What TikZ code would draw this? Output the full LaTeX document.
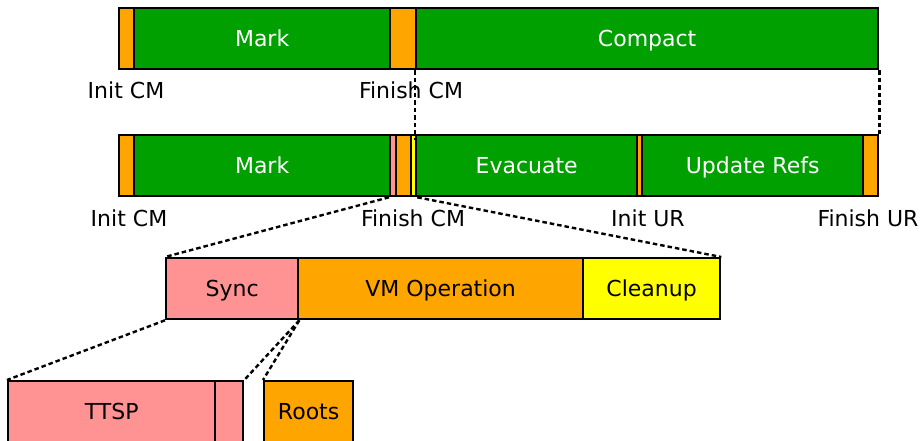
\documentclass[tikz,border=0pt]{standalone}
\usepackage{fontspec}
\setmainfont{DejaVu Sans}
\definecolor{gcgreen}{RGB}{0,160,0}
\definecolor{gcorange}{RGB}{255,165,0}
\definecolor{gcpink}{RGB}{255,146,146}
\definecolor{gcyellow}{RGB}{255,255,0}
\tikzset{
  caps centred/.style={font=\fontsize{22}{24}\selectfont, text height=16pt, text depth=0pt},
  seg/.style={draw=black, line width=2.3pt, rectangle, inner sep=0pt, anchor=north west,
    minimum height=61pt, caps centred},
  green seg/.style={seg, fill=gcgreen, text=white},
  orange seg/.style={seg, fill=gcorange},
  pink seg/.style={seg, fill=gcpink},
  yellow seg/.style={seg, fill=gcyellow},
  tick/.style={caps centred, inner sep=0pt},
  zoomline/.style={line width=2.4pt, dash pattern=on 4.5pt off 3pt},
}
\begin{document}
\begin{tikzpicture}[x=1pt, y=-1pt]
\useasboundingbox (0,0) rectangle (922,441);
\clip (0,0) rectangle (922,441);

% top row: concurrent mark, then compaction
\node[orange seg, minimum width=15pt]  (tinit) at (118,7) {};
\node[green seg,  minimum width=256pt] (tmark) at (133,7) {Mark};
\node[orange seg, minimum width=26pt]  (tfin)  at (389,7) {};
\node[green seg,  minimum width=462pt] (tcomp) at (415,7) {Compact};
\node[tick] (lblinit1) at (126,91) {Init CM};
\node[tick] (lblfin1)  at (411,91) {Finish CM};

% middle row: mark, evacuate, update references
\node[orange seg, minimum width=15pt]  (minit) at (118,134) {};
\node[green seg,  minimum width=256pt] (mmark) at (133,134) {Mark};
\node[pink seg,   minimum width=6pt]   (msync) at (389,134) {};
\node[orange seg, minimum width=15pt]  (mvmop) at (395,134) {};
\node[yellow seg, minimum width=5pt]   (mclean) at (410,134) {};
\node[green seg,  minimum width=221pt] (mevac) at (415,134) {Evacuate};
\node[orange seg, minimum width=5pt]   (mur)   at (636,134) {};
\node[green seg,  minimum width=221pt] (mupd)  at (641,134) {Update Refs};
\node[orange seg, minimum width=15pt]  (mfur)  at (862,134) {};
\node[tick] (lblinit2) at (129,219) {Init CM};
\node[tick] (lblfin2)  at (413,219) {Finish CM};
\node[tick] (lblur)    at (648,219) {Init UR};
\node[tick] (lblfur)   at (868,219) {Finish UR};

% pause breakdown
\node[pink seg,   minimum width=132pt] (sync)  at (165,257) {Sync};
\node[orange seg, minimum width=285pt] (vmop)  at (297,257) {VM Operation};
\node[yellow seg, minimum width=137pt] (clean) at (582,257) {Cleanup};

% sync and root breakdown
\node[pink seg,   minimum width=207pt] (ttsp)  at (7,380) {TTSP};
\node[pink seg,   minimum width=28pt]  (ttspb) at (214,380) {};
\node[orange seg, minimum width=89pt]  (roots) at (263,380) {Roots};

% alignment guides between the two timelines
\draw[zoomline] (tcomp.south west) -- ([yshift=-6pt]mevac.north west);
\draw[zoomline] (tcomp.south east) -- (mfur.north east);

% zoom lines
\draw[zoomline] (msync.south west) -- (sync.north west);
\draw[zoomline] (mclean.south east) -- (clean.north east);
\draw[zoomline] (sync.south west) -- (ttsp.north west);
\draw[zoomline] (sync.south east) -- (ttspb.north east);
\draw[zoomline] (sync.south east) -- (roots.north west);
\end{tikzpicture}
\end{document}
